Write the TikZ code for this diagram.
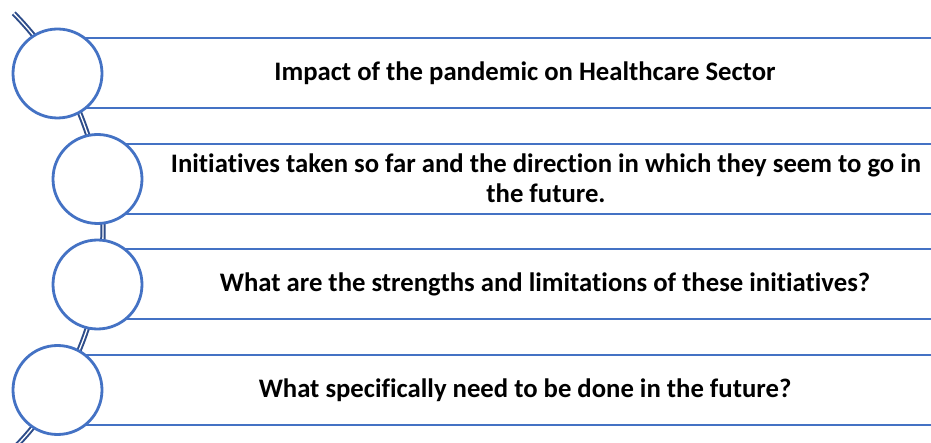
\documentclass[tikz,border=0pt]{standalone}
\usepackage{fontspec}
\setmainfont[Ligatures=NoCommon]{Carlito}
\definecolor{cblue}{HTML}{4472C4}
\definecolor{arcblue}{HTML}{2E4D8A}
\tikzset{
  circ/.style={circle, draw=cblue, line width=2.8pt, fill=white, minimum size=89pt, inner sep=0pt},
  band/.style={draw=cblue, line width=2.2pt},
  lbl/.style={font=\fontsize{26.7}{30}\selectfont\bfseries, align=center, inner sep=0pt},
  spine/.style={draw=arcblue, line width=2pt, double=white, double distance=1.3pt}
}
\begin{document}
\begin{tikzpicture}[x=1pt,y=-1pt]
\useasboundingbox (0,0) rectangle (931,443);
\clip (0,0) rectangle (931,443);
\fill[white] (0,0) rectangle (931,443);
% spine arc
\coordinate (sp) at (13.7,13.3);
\draw[spine] (sp) arc[start angle=-44.6, end angle=46, radius=310];
% circle anchors
\coordinate (p1) at (57.5,73.5);
\coordinate (p2) at (97.5,179);
\coordinate (p3) at (97.5,284.5);
\coordinate (p4) at (57.5,390);
% bands
\draw[band] (p1 |- 0,38) -- (935,38);
\draw[band] (p1 |- 0,108) -- (935,108);
\draw[band] (p2 |- 0,144) -- (935,144);
\draw[band] (p2 |- 0,214) -- (935,214);
\draw[band] (p3 |- 0,249) -- (935,249);
\draw[band] (p3 |- 0,319) -- (935,319);
\draw[band] (p4 |- 0,355) -- (935,355);
\draw[band] (p4 |- 0,425) -- (935,425);
% circles
\node[circ] (c1) at (p1) {};
\node[circ] (c2) at (p2) {};
\node[circ] (c3) at (p3) {};
\node[circ] (c4) at (p4) {};
% labels
\node[lbl] (t1) at (525,73) {Impact of the pandemic on Healthcare Sector};
\node[lbl] (t2) at (546,178) {Initiatives taken so far and the direction in which they seem to go in\\the future.};
\node[lbl] (t3) at (545,284) {What are the strengths and limitations of these initiatives?};
\node[lbl] (t4) at (525,390) {What specifically need to be done in the future?};
\end{tikzpicture}
\end{document}
